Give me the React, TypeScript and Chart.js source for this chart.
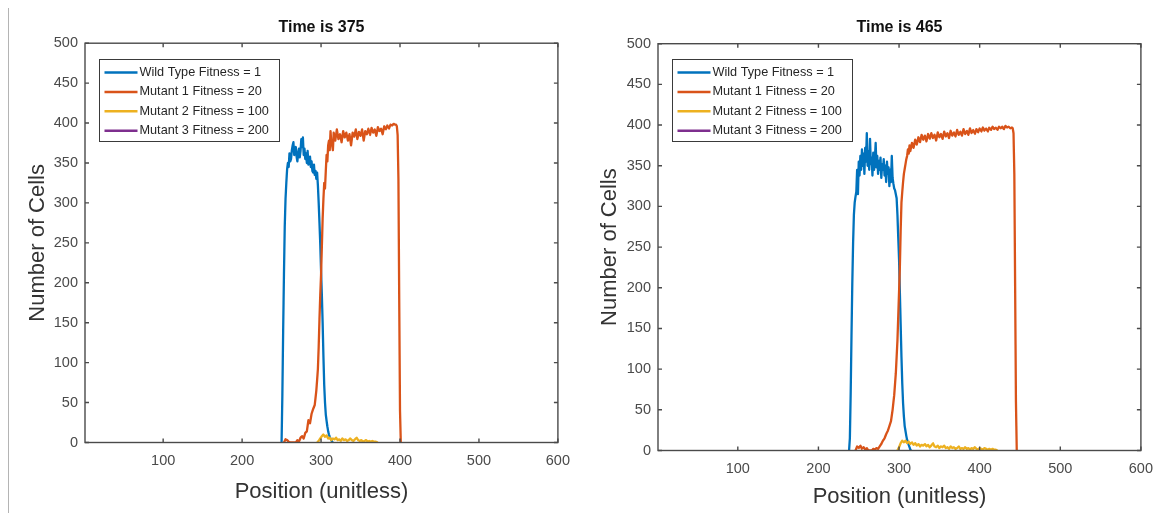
import React, { useEffect, useRef } from "react";
import { Chart, registerables } from "chart.js";

Chart.register(...registerables);

type Pt = [number, number];

const FONT = "'Liberation Sans', Arial, Helvetica, sans-serif";

// ---------------- data ----------------
const xTickValues = [100, 200, 300, 400, 500, 600];
const yTickValues = [0, 50, 100, 150, 200, 250, 300, 350, 400, 450, 500];
const seriesLabels = [
  "Wild Type Fitness = 1",
  "Mutant 1 Fitness = 20",
  "Mutant 2 Fitness = 100",
  "Mutant 3 Fitness = 200",
];
const seriesColors = ["#0072BD", "#D95319", "#EDB120", "#7E2F8E"];
const panelTimes = [375, 465];

// Time 375: [position, number of cells]
const wildType375: Pt[] = [
  [250, 0], [251, 60], [252, 140], [253, 210], [254, 270], [255, 305], [256, 325], [257, 342],
  [258, 350], [259, 345], [260, 362], [261, 352], [262, 355], [263, 366], [264, 372], [265, 376],
  [266, 360], [267, 364], [268, 370], [269, 358], [270, 352], [271, 362], [272, 368], [273, 357],
  [274, 365], [275, 380], [276, 370], [277, 382], [278, 360], [279, 368], [280, 355], [281, 362],
  [282, 350], [283, 365], [284, 348], [285, 354], [286, 358], [287, 345], [288, 352], [289, 340],
  [290, 338], [291, 348], [292, 335], [293, 340], [294, 330], [295, 338], [296, 322], [297, 300],
  [298, 275], [299, 248], [300, 215], [301, 185], [302, 150], [303, 108], [304, 72], [305, 50],
  [306, 35], [307, 27], [308, 20], [309, 14], [310, 10], [311, 7], [312, 5], [313, 3], [314, 1], [315, 0],
];
const mutant1_375: Pt[] = [
  [253, 0], [255, 4], [257, 3], [259, 1], [261, 0], [268, 0], [270, 3], [272, 1], [274, 6], [276, 8],
  [278, 5], [280, 12], [282, 14], [284, 28], [286, 24], [288, 36], [290, 42], [292, 47], [294, 65],
  [295, 78], [296, 92], [297, 120], [298, 155], [299, 185], [300, 210], [301, 245], [302, 280],
  [303, 305], [304, 325], [305, 318], [306, 340], [307, 360], [308, 352], [309, 372], [310, 378],
  [311, 366], [312, 390], [313, 375], [314, 372], [315, 366], [316, 388], [318, 378], [320, 392],
  [322, 380], [324, 386], [326, 376], [328, 390], [330, 382], [332, 388], [334, 378], [336, 386],
  [338, 372], [340, 388], [342, 383], [344, 392], [346, 380], [348, 389], [350, 384], [352, 392],
  [354, 378], [356, 390], [358, 386], [360, 393], [362, 385], [364, 394], [366, 388], [368, 392],
  [370, 384], [372, 395], [374, 390], [376, 393], [378, 386], [380, 396], [382, 392], [384, 397],
  [386, 393], [388, 398], [390, 397], [392, 399], [394, 398], [395, 398], [396, 396], [397, 385],
  [398, 330], [399, 180], [400, 40], [401, 0],
];
const mutant2_375: Pt[] = [
  [295, 0], [297, 2], [299, 5], [301, 8], [303, 10], [305, 7], [307, 9], [309, 5], [311, 6], [313, 3],
  [315, 5], [317, 4], [319, 6], [321, 3], [323, 4], [325, 2], [327, 5], [329, 3], [331, 4], [333, 2],
  [335, 3], [337, 5], [339, 3], [341, 2], [343, 4], [345, 6], [347, 3], [349, 2], [351, 3], [353, 1],
  [355, 2], [357, 3], [359, 1], [361, 2], [363, 1], [365, 2], [367, 1], [369, 1], [372, 0],
];
const mutant3_375: Pt[] = [];

// Time 465
const wildType465: Pt[] = [
  [238, 0], [239, 15], [240, 70], [241, 140], [242, 205], [243, 255], [244, 290], [245, 305],
  [246, 312], [247, 318], [248, 345], [249, 315], [250, 355], [251, 338], [252, 362], [253, 345],
  [254, 370], [255, 350], [256, 365], [257, 340], [258, 372], [259, 355], [260, 390], [261, 350],
  [262, 368], [263, 345], [264, 383], [265, 352], [266, 360], [267, 338], [268, 366], [269, 345],
  [270, 358], [271, 378], [272, 348], [273, 362], [274, 340], [275, 356], [276, 345], [277, 360],
  [278, 335], [279, 352], [280, 345], [281, 358], [282, 338], [283, 350], [284, 330], [285, 355],
  [286, 340], [287, 348], [288, 325], [289, 345], [290, 330], [291, 362], [292, 335], [293, 328],
  [294, 322], [295, 320], [296, 315], [297, 310], [298, 290], [299, 262], [300, 235], [301, 195],
  [302, 155], [303, 115], [304, 82], [305, 58], [306, 42], [307, 30], [308, 24], [309, 18],
  [310, 13], [311, 10], [312, 7], [313, 4], [314, 1], [315, 0],
];
const mutant1_465: Pt[] = [
  [246, 0], [248, 5], [250, 3], [252, 6], [254, 2], [256, 4], [258, 1], [260, 3], [262, 0], [266, 0],
  [268, 2], [270, 1], [272, 3], [274, 2], [276, 5], [278, 8], [280, 12], [282, 15], [284, 20],
  [286, 24], [288, 30], [290, 36], [292, 50], [294, 68], [296, 95], [297, 115], [298, 135],
  [299, 165], [300, 195], [301, 225], [302, 270], [303, 305], [304, 318], [305, 330], [306, 340],
  [307, 346], [308, 352], [309, 358], [310, 362], [311, 370], [312, 365], [313, 375], [314, 368],
  [316, 378], [318, 372], [320, 382], [322, 376], [324, 385], [326, 379], [328, 388], [330, 382],
  [332, 387], [334, 380], [336, 389], [338, 383], [340, 390], [342, 384], [344, 388], [346, 381],
  [348, 391], [350, 385], [352, 389], [354, 383], [356, 392], [358, 386], [360, 390], [362, 384],
  [364, 393], [366, 387], [368, 391], [370, 386], [372, 394], [374, 388], [376, 392], [378, 387],
  [380, 395], [382, 389], [384, 393], [386, 388], [388, 396], [390, 390], [392, 394], [394, 389],
  [396, 395], [398, 391], [400, 396], [402, 392], [404, 397], [406, 393], [408, 396], [410, 392],
  [412, 397], [414, 394], [416, 398], [418, 395], [420, 397], [422, 394], [424, 398], [426, 396],
  [428, 398], [430, 395], [432, 399], [434, 397], [436, 398], [438, 396], [440, 397], [441, 396],
  [442, 390], [443, 340], [444, 200], [445, 60], [446, 0],
];
const mutant2_465: Pt[] = [
  [298, 0], [300, 4], [302, 9], [304, 12], [306, 10], [308, 12], [310, 9], [312, 11], [314, 8],
  [316, 10], [318, 7], [320, 9], [322, 6], [324, 8], [326, 5], [328, 7], [330, 6], [332, 8], [334, 5],
  [336, 7], [338, 4], [340, 6], [342, 9], [344, 5], [346, 4], [348, 6], [350, 3], [352, 5], [354, 4],
  [356, 6], [358, 3], [360, 4], [362, 2], [364, 5], [366, 3], [368, 4], [370, 2], [372, 3], [374, 5],
  [376, 2], [378, 3], [380, 2], [382, 4], [384, 2], [386, 3], [388, 1], [390, 3], [392, 2], [394, 4],
  [396, 2], [398, 1], [400, 3], [402, 2], [404, 1], [406, 3], [408, 2], [410, 1], [412, 2], [414, 1],
  [416, 2], [418, 1], [420, 1], [422, 0],
];
const mutant3_465: Pt[] = [];

// ---------------- drawing ----------------
const matlabFrame = {
  id: "matlabFrame",
  afterDraw(chart: any) {
    const { ctx, chartArea: a, scales } = chart;
    const L = a.left, R = a.right, T = a.top, B = a.bottom;
    ctx.save();
    ctx.strokeStyle = "#4a4a4a";
    ctx.lineWidth = 1.4;
    ctx.strokeRect(L, T, R - L, B - T);
    const tl = 4;
    ctx.beginPath();
    scales.x.ticks.forEach((t: any) => {
      const px = scales.x.getPixelForValue(t.value);
      ctx.moveTo(px, B); ctx.lineTo(px, B - tl);
      ctx.moveTo(px, T); ctx.lineTo(px, T + tl);
    });
    scales.y.ticks.forEach((t: any) => {
      const py = scales.y.getPixelForValue(t.value);
      ctx.moveTo(L, py); ctx.lineTo(L + tl, py);
      ctx.moveTo(R, py); ctx.lineTo(R - tl, py);
    });
    ctx.stroke();

    // legend box inside the plot area (upper left)
    const bx = Math.round(L + 14) + 0.5;
    const by = Math.round(T + 15.5) + 0.5;
    const bw = 180, bh = 82;
    ctx.fillStyle = "#fff";
    ctx.fillRect(bx, by, bw, bh);
    ctx.lineWidth = 1;
    ctx.strokeStyle = "#3a3a3a";
    ctx.strokeRect(bx, by, bw, bh);
    ctx.font = `12.7px ${FONT}`;
    ctx.textBaseline = "middle";
    ctx.textAlign = "left";
    chart.data.datasets.forEach((ds: any, i: number) => {
      const y = by + 13 + i * 19.4;
      ctx.strokeStyle = ds.borderColor;
      ctx.lineWidth = 2.5;
      ctx.beginPath();
      ctx.moveTo(bx + 5, y);
      ctx.lineTo(bx + 38, y);
      ctx.stroke();
      ctx.fillStyle = "#262626";
      ctx.fillText(ds.label, bx + 40, y);
    });
    ctx.restore();
  },
};

type PanelCfg = {
  time: number;
  series: Pt[][];
  left: number;
  width: number;
  padRight: number;
  yWidth: number;
  xHeight: number;
  titlePadTop: number;
  titlePadBottom: number;
  yTitlePad: number;
  xTitlePad: number;
};

const panels: PanelCfg[] = [
  {
    time: panelTimes[0],
    series: [wildType375, mutant1_375, mutant2_375, mutant3_375],
    left: 0, width: 580, padRight: 19, yWidth: 85, xHeight: 71.5,
    titlePadTop: 18, titlePadBottom: 6, yTitlePad: 25, xTitlePad: 9,
  },
  {
    time: panelTimes[1],
    series: [wildType465, mutant1_465, mutant2_465, mutant3_465],
    left: 580, width: 583, padRight: 20, yWidth: 78, xHeight: 63.5,
    titlePadTop: 17.5, titlePadBottom: 7, yTitlePad: 17, xTitlePad: 4,
  },
];

function Panel({ p }: { p: PanelCfg }) {
  const ref = useRef<HTMLCanvasElement>(null);
  useEffect(() => {
    const chart = new Chart(ref.current as HTMLCanvasElement, {
      type: "line",
      data: {
        datasets: p.series.map((s, i) => ({
          label: seriesLabels[i],
          data: s.map(([x, y]) => ({ x, y })),
          borderColor: seriesColors[i],
          backgroundColor: seriesColors[i],
          borderWidth: 2.3,
          borderJoinStyle: "round",
          borderCapStyle: "butt",
          pointRadius: 0,
          fill: false,
          // tiny non-zero tension disables Chart.js's per-pixel "fast path" (avoids stubs)
          tension: 0.0001,
          order: 4 - i,
        })),
      },
      options: {
        responsive: false,
        animation: false,
        devicePixelRatio: 1,
        layout: { padding: { left: 0, right: p.padRight, top: 0, bottom: 0 } },
        plugins: {
          legend: { display: false },
          tooltip: { enabled: false },
          title: {
            display: true,
            text: `Time is ${p.time}`,
            fullSize: false,
            color: "#111",
            font: { size: 16, weight: "bold", family: FONT },
            padding: { top: p.titlePadTop, bottom: p.titlePadBottom },
          },
        },
        scales: {
          x: {
            type: "linear",
            min: 1,
            max: 600,
            afterBuildTicks: (s: any) => {
              s.ticks = xTickValues.map((v) => ({ value: v }));
            },
            afterFit: (s: any) => {
              s.height = p.xHeight;
            },
            grid: { display: false, drawTicks: false },
            border: { display: false },
            ticks: {
              font: { size: 14.5, family: FONT },
              color: "#4a4a4a",
              padding: 10,
              maxRotation: 0,
              autoSkip: false,
            },
            title: {
              display: true,
              text: "Position (unitless)",
              color: "#333",
              font: { size: 22, family: FONT },
              padding: { top: 0, bottom: p.xTitlePad },
            },
          },
          y: {
            type: "linear",
            min: 0,
            max: 500,
            afterBuildTicks: (s: any) => {
              s.ticks = yTickValues.map((v) => ({ value: v }));
            },
            afterFit: (s: any) => {
              s.width = p.yWidth;
            },
            grid: { display: false, drawTicks: false },
            border: { display: false },
            ticks: {
              font: { size: 14.5, family: FONT },
              color: "#4a4a4a",
              padding: 7,
              autoSkip: false,
            },
            title: {
              display: true,
              text: "Number of Cells",
              color: "#333",
              font: { size: 22, family: FONT },
              padding: { top: p.yTitlePad, bottom: 0 },
            },
          },
        },
      } as any,
      plugins: [matlabFrame],
    });
    return () => chart.destroy();
  }, [p]);
  return (
    <canvas
      ref={ref}
      width={p.width}
      height={514}
      style={{ position: "absolute", left: p.left, top: 0, width: p.width, height: 514 }}
    />
  );
}

export default function App() {
  return (
    <div
      style={{
        position: "absolute",
        left: 0,
        top: 0,
        width: 1163,
        height: 514,
        background: "#fff",
        overflow: "hidden",
      }}
    >
      <div
        style={{
          position: "absolute",
          left: 8,
          top: 8,
          width: 1,
          height: 505,
          background: "#b4b4b4",
        }}
      />
      {panels.map((p) => (
        <Panel key={p.time} p={p} />
      ))}
    </div>
  );
}
